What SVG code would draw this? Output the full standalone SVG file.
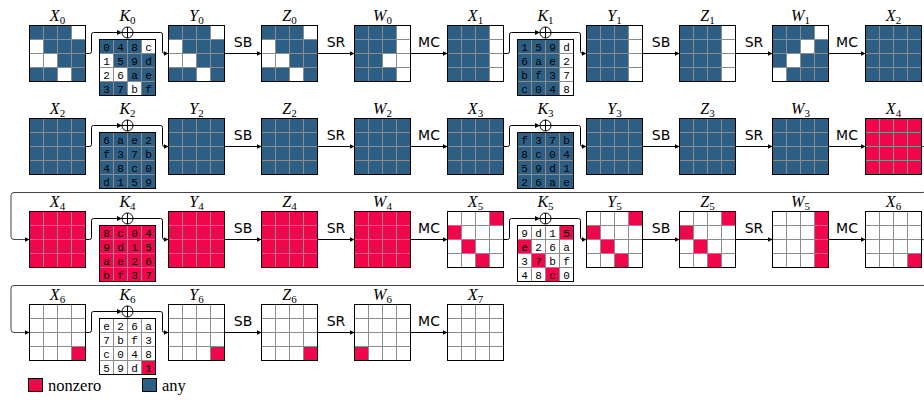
<svg xmlns="http://www.w3.org/2000/svg" xmlns:xlink="http://www.w3.org/1999/xlink" width="924" height="400" viewBox="0 0 924 400">
<style>
.lb{font-family:'Liberation Serif','Times New Roman',serif;font-size:16px;text-anchor:middle;fill:#000}
.it{font-style:italic}
.sb{font-size:11px}
.op{font-family:'DejaVu Sans','Liberation Sans',sans-serif;font-size:14px;text-anchor:middle;fill:#000}
.kt{font-family:'Liberation Mono','DejaVu Sans Mono',monospace;font-size:11px;text-anchor:middle;fill:#000}
.cn{fill:none;stroke:#000;stroke-width:1}
.wr{fill:none;stroke:#444;stroke-width:1}
.leg{font-family:'Liberation Serif','Times New Roman',serif;font-size:16.5px;fill:#000}
</style>
<defs>
<rect id="cB" width="14" height="14" fill="#2d5f85"/>
<rect id="cR" width="14" height="14" fill="#f0064b"/>
<rect id="fB" width="56" height="56" fill="#2d5f85"/>
<rect id="fR" width="56" height="56" fill="#f0064b"/>
<rect id="c3B" width="42" height="56" fill="#2d5f85"/>
<rect id="colR" width="14" height="56" fill="#f0064b"/>
<g id="gl"><path d="M14,0V56M28,0V56M42,0V56M0,14H56M0,28H56M0,42H56" fill="none" stroke="#8c8c8c" stroke-width="1"/><rect width="56" height="56" fill="none" stroke="#000" stroke-width="1"/></g>
<g id="xor"><circle r="5.5" fill="#fff" stroke="#000" stroke-width="1"/><path d="M-5.5,0H5.5M0,-5.5V5.5" stroke="#000" stroke-width="1"/></g>
<marker id="ah" markerWidth="6" markerHeight="6" refX="5" refY="3" orient="auto" markerUnits="userSpaceOnUse"><path d="M0,0.6L5,3L0,5.4Z" fill="#000"/></marker>
</defs>
<rect width="924" height="400" fill="#fff"/>

<g id="connectors">
<path class="cn" d="M85.5,53.5H89.5Q91.5,53.5 91.5,51.5V34.5Q91.5,32.5 93.5,32.5H122" marker-end="url(#ah)"/>
<path class="cn" d="M133,32.5H160.5Q162.5,32.5 162.5,34.5V51.5Q162.5,53.5 164.5,53.5H168.5" marker-end="url(#ah)"/>
<path class="cn" d="M224.5,53.5H261.5" marker-end="url(#ah)"/>
<path class="cn" d="M317.5,53.5H354.5" marker-end="url(#ah)"/>
<path class="cn" d="M410.5,53.5H447.5" marker-end="url(#ah)"/>
<path class="cn" d="M503.5,53.5H507.5Q509.5,53.5 509.5,51.5V34.5Q509.5,32.5 511.5,32.5H540" marker-end="url(#ah)"/>
<path class="cn" d="M551,32.5H578.5Q580.5,32.5 580.5,34.5V51.5Q580.5,53.5 582.5,53.5H586.5" marker-end="url(#ah)"/>
<path class="cn" d="M642.5,53.5H679.5" marker-end="url(#ah)"/>
<path class="cn" d="M735.5,53.5H772.5" marker-end="url(#ah)"/>
<path class="cn" d="M828.5,53.5H865.5" marker-end="url(#ah)"/>
<path class="cn" d="M85.5,146.5H89.5Q91.5,146.5 91.5,144.5V127.5Q91.5,125.5 93.5,125.5H122" marker-end="url(#ah)"/>
<path class="cn" d="M133,125.5H160.5Q162.5,125.5 162.5,127.5V144.5Q162.5,146.5 164.5,146.5H168.5" marker-end="url(#ah)"/>
<path class="cn" d="M224.5,146.5H261.5" marker-end="url(#ah)"/>
<path class="cn" d="M317.5,146.5H354.5" marker-end="url(#ah)"/>
<path class="cn" d="M410.5,146.5H447.5" marker-end="url(#ah)"/>
<path class="cn" d="M503.5,146.5H507.5Q509.5,146.5 509.5,144.5V127.5Q509.5,125.5 511.5,125.5H540" marker-end="url(#ah)"/>
<path class="cn" d="M551,125.5H578.5Q580.5,125.5 580.5,127.5V144.5Q580.5,146.5 582.5,146.5H586.5" marker-end="url(#ah)"/>
<path class="cn" d="M642.5,146.5H679.5" marker-end="url(#ah)"/>
<path class="cn" d="M735.5,146.5H772.5" marker-end="url(#ah)"/>
<path class="cn" d="M828.5,146.5H865.5" marker-end="url(#ah)"/>
<path class="wr" d="M921.5,146.5H923Q926,146.5 926,149.5V189.5Q926,192.5 923,192.5H14Q11,192.5 11,195.5V236.5Q11,239.5 14,239.5H29.5" marker-end="url(#ah)"/>
<path class="cn" d="M85.5,239.5H89.5Q91.5,239.5 91.5,237.5V220.5Q91.5,218.5 93.5,218.5H122" marker-end="url(#ah)"/>
<path class="cn" d="M133,218.5H160.5Q162.5,218.5 162.5,220.5V237.5Q162.5,239.5 164.5,239.5H168.5" marker-end="url(#ah)"/>
<path class="cn" d="M224.5,239.5H261.5" marker-end="url(#ah)"/>
<path class="cn" d="M317.5,239.5H354.5" marker-end="url(#ah)"/>
<path class="cn" d="M410.5,239.5H447.5" marker-end="url(#ah)"/>
<path class="cn" d="M503.5,239.5H507.5Q509.5,239.5 509.5,237.5V220.5Q509.5,218.5 511.5,218.5H540" marker-end="url(#ah)"/>
<path class="cn" d="M551,218.5H578.5Q580.5,218.5 580.5,220.5V237.5Q580.5,239.5 582.5,239.5H586.5" marker-end="url(#ah)"/>
<path class="cn" d="M642.5,239.5H679.5" marker-end="url(#ah)"/>
<path class="cn" d="M735.5,239.5H772.5" marker-end="url(#ah)"/>
<path class="cn" d="M828.5,239.5H865.5" marker-end="url(#ah)"/>
<path class="wr" d="M921.5,239.5H923Q926,239.5 926,242.5V282.5Q926,285.5 923,285.5H14Q11,285.5 11,288.5V329.5Q11,332.5 14,332.5H29.5" marker-end="url(#ah)"/>
<path class="cn" d="M85.5,332.5H89.5Q91.5,332.5 91.5,330.5V313.5Q91.5,311.5 93.5,311.5H122" marker-end="url(#ah)"/>
<path class="cn" d="M133,311.5H160.5Q162.5,311.5 162.5,313.5V330.5Q162.5,332.5 164.5,332.5H168.5" marker-end="url(#ah)"/>
<path class="cn" d="M224.5,332.5H261.5" marker-end="url(#ah)"/>
<path class="cn" d="M317.5,332.5H354.5" marker-end="url(#ah)"/>
<path class="cn" d="M410.5,332.5H447.5" marker-end="url(#ah)"/>
</g>

<g id="oplabels">
<text class="op" x="243" y="47">SB</text><text class="op" x="336" y="47">SR</text><text class="op" x="429" y="47">MC</text>
<text class="op" x="661" y="47">SB</text><text class="op" x="754" y="47">SR</text><text class="op" x="847" y="47">MC</text>
<text class="op" x="243" y="140">SB</text><text class="op" x="336" y="140">SR</text><text class="op" x="429" y="140">MC</text>
<text class="op" x="661" y="140">SB</text><text class="op" x="754" y="140">SR</text><text class="op" x="847" y="140">MC</text>
<text class="op" x="243" y="233">SB</text><text class="op" x="336" y="233">SR</text><text class="op" x="429" y="233">MC</text>
<text class="op" x="661" y="233">SB</text><text class="op" x="754" y="233">SR</text><text class="op" x="847" y="233">MC</text>
<text class="op" x="243" y="326">SB</text><text class="op" x="336" y="326">SR</text><text class="op" x="429" y="326">MC</text>
</g>

<g id="X0" transform="translate(29.5,25.5)">
<use href="#cB" x="0" y="0"/><use href="#cB" x="14" y="0"/><use href="#cB" x="28" y="0"/>
<use href="#cB" x="14" y="14"/><use href="#cB" x="28" y="14"/><use href="#cB" x="42" y="14"/>
<use href="#cB" x="28" y="28"/><use href="#cB" x="42" y="28"/>
<use href="#cB" x="0" y="42"/><use href="#cB" x="14" y="42"/><use href="#cB" x="42" y="42"/>
<use href="#gl"/>
<text class="lb" x="28" y="-5"><tspan class="it">X</tspan><tspan class="sb" dy="3">0</tspan></text>
</g>
<g id="K0" transform="translate(99.5,25.5)">
<text class="lb" x="28" y="-5"><tspan class="it">K</tspan><tspan class="sb" dy="3">0</tspan></text>
<use href="#xor" x="28" y="7"/>
<g transform="translate(0,14)">
<use href="#cB" x="0" y="0"/><use href="#cB" x="14" y="0"/><use href="#cB" x="28" y="0"/>
<use href="#cB" x="14" y="14"/><use href="#cB" x="28" y="14"/><use href="#cB" x="42" y="14"/>
<use href="#cB" x="28" y="28"/><use href="#cB" x="42" y="28"/>
<use href="#cB" x="0" y="42"/><use href="#cB" x="14" y="42"/><use href="#cB" x="42" y="42"/>
<use href="#gl"/>
<text class="kt"><tspan x="7 21 35 49" y="11">048c</tspan><tspan x="7 21 35 49" y="25">159d</tspan><tspan x="7 21 35 49" y="39">26ae</tspan><tspan x="7 21 35 49" y="53">37bf</tspan></text>
</g>
</g>
<g id="Y0" transform="translate(168.5,25.5)">
<use href="#cB" x="0" y="0"/><use href="#cB" x="14" y="0"/><use href="#cB" x="28" y="0"/>
<use href="#cB" x="14" y="14"/><use href="#cB" x="28" y="14"/><use href="#cB" x="42" y="14"/>
<use href="#cB" x="28" y="28"/><use href="#cB" x="42" y="28"/>
<use href="#cB" x="0" y="42"/><use href="#cB" x="14" y="42"/><use href="#cB" x="42" y="42"/>
<use href="#gl"/>
<text class="lb" x="28" y="-5"><tspan class="it">Y</tspan><tspan class="sb" dy="3">0</tspan></text>
</g>
<g id="Z0" transform="translate(261.5,25.5)">
<use href="#cB" x="0" y="0"/><use href="#cB" x="14" y="0"/><use href="#cB" x="28" y="0"/>
<use href="#cB" x="14" y="14"/><use href="#cB" x="28" y="14"/><use href="#cB" x="42" y="14"/>
<use href="#cB" x="28" y="28"/><use href="#cB" x="42" y="28"/>
<use href="#cB" x="0" y="42"/><use href="#cB" x="14" y="42"/><use href="#cB" x="42" y="42"/>
<use href="#gl"/>
<text class="lb" x="28" y="-5"><tspan class="it">Z</tspan><tspan class="sb" dy="3">0</tspan></text>
</g>
<g id="W0" transform="translate(354.5,25.5)">
<use href="#cB" x="0" y="0"/><use href="#cB" x="14" y="0"/><use href="#cB" x="28" y="0"/>
<use href="#cB" x="0" y="14"/><use href="#cB" x="14" y="14"/><use href="#cB" x="28" y="14"/>
<use href="#cB" x="0" y="28"/><use href="#cB" x="14" y="28"/>
<use href="#cB" x="0" y="42"/><use href="#cB" x="14" y="42"/><use href="#cB" x="28" y="42"/>
<use href="#gl"/>
<text class="lb" x="28" y="-5"><tspan class="it">W</tspan><tspan class="sb" dy="3">0</tspan></text>
</g>
<g id="X1" transform="translate(447.5,25.5)">
<use href="#c3B"/><use href="#gl"/>
<text class="lb" x="28" y="-5"><tspan class="it">X</tspan><tspan class="sb" dy="3">1</tspan></text>
</g>
<g id="K1" transform="translate(517.5,25.5)">
<text class="lb" x="28" y="-5"><tspan class="it">K</tspan><tspan class="sb" dy="3">1</tspan></text>
<use href="#xor" x="28" y="7"/>
<g transform="translate(0,14)">
<use href="#c3B"/><use href="#gl"/>
<text class="kt"><tspan x="7 21 35 49" y="11">159d</tspan><tspan x="7 21 35 49" y="25">6ae2</tspan><tspan x="7 21 35 49" y="39">bf37</tspan><tspan x="7 21 35 49" y="53">c048</tspan></text>
</g>
</g>
<g id="Y1" transform="translate(586.5,25.5)">
<use href="#c3B"/><use href="#gl"/>
<text class="lb" x="28" y="-5"><tspan class="it">Y</tspan><tspan class="sb" dy="3">1</tspan></text>
</g>
<g id="Z1" transform="translate(679.5,25.5)">
<use href="#c3B"/><use href="#gl"/>
<text class="lb" x="28" y="-5"><tspan class="it">Z</tspan><tspan class="sb" dy="3">1</tspan></text>
</g>
<g id="W1" transform="translate(772.5,25.5)">
<use href="#cB" x="0" y="0"/><use href="#cB" x="14" y="0"/><use href="#cB" x="28" y="0"/>
<use href="#cB" x="0" y="14"/><use href="#cB" x="14" y="14"/><use href="#cB" x="42" y="14"/>
<use href="#cB" x="0" y="28"/><use href="#cB" x="28" y="28"/><use href="#cB" x="42" y="28"/>
<use href="#cB" x="14" y="42"/><use href="#cB" x="28" y="42"/><use href="#cB" x="42" y="42"/>
<use href="#gl"/>
<text class="lb" x="28" y="-5"><tspan class="it">W</tspan><tspan class="sb" dy="3">1</tspan></text>
</g>
<g id="X2a" transform="translate(865.5,25.5)">
<use href="#fB"/><use href="#gl"/>
<text class="lb" x="28" y="-5"><tspan class="it">X</tspan><tspan class="sb" dy="3">2</tspan></text>
</g>

<g id="X2b" transform="translate(29.5,118.5)">
<use href="#fB"/><use href="#gl"/>
<text class="lb" x="28" y="-5"><tspan class="it">X</tspan><tspan class="sb" dy="3">2</tspan></text>
</g>
<g id="K2" transform="translate(99.5,118.5)">
<text class="lb" x="28" y="-5"><tspan class="it">K</tspan><tspan class="sb" dy="3">2</tspan></text>
<use href="#xor" x="28" y="7"/>
<g transform="translate(0,14)">
<use href="#fB"/><use href="#gl"/>
<text class="kt"><tspan x="7 21 35 49" y="11">6ae2</tspan><tspan x="7 21 35 49" y="25">f37b</tspan><tspan x="7 21 35 49" y="39">48c0</tspan><tspan x="7 21 35 49" y="53">d159</tspan></text>
</g>
</g>
<g id="Y2" transform="translate(168.5,118.5)">
<use href="#fB"/><use href="#gl"/>
<text class="lb" x="28" y="-5"><tspan class="it">Y</tspan><tspan class="sb" dy="3">2</tspan></text>
</g>
<g id="Z2" transform="translate(261.5,118.5)">
<use href="#fB"/><use href="#gl"/>
<text class="lb" x="28" y="-5"><tspan class="it">Z</tspan><tspan class="sb" dy="3">2</tspan></text>
</g>
<g id="W2" transform="translate(354.5,118.5)">
<use href="#fB"/><use href="#gl"/>
<text class="lb" x="28" y="-5"><tspan class="it">W</tspan><tspan class="sb" dy="3">2</tspan></text>
</g>
<g id="X3" transform="translate(447.5,118.5)">
<use href="#fB"/><use href="#gl"/>
<text class="lb" x="28" y="-5"><tspan class="it">X</tspan><tspan class="sb" dy="3">3</tspan></text>
</g>
<g id="K3" transform="translate(517.5,118.5)">
<text class="lb" x="28" y="-5"><tspan class="it">K</tspan><tspan class="sb" dy="3">3</tspan></text>
<use href="#xor" x="28" y="7"/>
<g transform="translate(0,14)">
<use href="#fB"/><use href="#gl"/>
<text class="kt"><tspan x="7 21 35 49" y="11">f37b</tspan><tspan x="7 21 35 49" y="25">8c04</tspan><tspan x="7 21 35 49" y="39">59d1</tspan><tspan x="7 21 35 49" y="53">26ae</tspan></text>
</g>
</g>
<g id="Y3" transform="translate(586.5,118.5)">
<use href="#fB"/><use href="#gl"/>
<text class="lb" x="28" y="-5"><tspan class="it">Y</tspan><tspan class="sb" dy="3">3</tspan></text>
</g>
<g id="Z3" transform="translate(679.5,118.5)">
<use href="#fB"/><use href="#gl"/>
<text class="lb" x="28" y="-5"><tspan class="it">Z</tspan><tspan class="sb" dy="3">3</tspan></text>
</g>
<g id="W3" transform="translate(772.5,118.5)">
<use href="#fB"/><use href="#gl"/>
<text class="lb" x="28" y="-5"><tspan class="it">W</tspan><tspan class="sb" dy="3">3</tspan></text>
</g>
<g id="X4a" transform="translate(865.5,118.5)">
<use href="#fR"/><use href="#gl"/>
<text class="lb" x="28" y="-5"><tspan class="it">X</tspan><tspan class="sb" dy="3">4</tspan></text>
</g>

<g id="X4b" transform="translate(29.5,211.5)">
<use href="#fR"/><use href="#gl"/>
<text class="lb" x="28" y="-5"><tspan class="it">X</tspan><tspan class="sb" dy="3">4</tspan></text>
</g>
<g id="K4" transform="translate(99.5,211.5)">
<text class="lb" x="28" y="-5"><tspan class="it">K</tspan><tspan class="sb" dy="3">4</tspan></text>
<use href="#xor" x="28" y="7"/>
<g transform="translate(0,14)">
<use href="#fR"/><use href="#gl"/>
<text class="kt"><tspan x="7 21 35 49" y="11">8c04</tspan><tspan x="7 21 35 49" y="25">9d15</tspan><tspan x="7 21 35 49" y="39">ae26</tspan><tspan x="7 21 35 49" y="53">bf37</tspan></text>
</g>
</g>
<g id="Y4" transform="translate(168.5,211.5)">
<use href="#fR"/><use href="#gl"/>
<text class="lb" x="28" y="-5"><tspan class="it">Y</tspan><tspan class="sb" dy="3">4</tspan></text>
</g>
<g id="Z4" transform="translate(261.5,211.5)">
<use href="#fR"/><use href="#gl"/>
<text class="lb" x="28" y="-5"><tspan class="it">Z</tspan><tspan class="sb" dy="3">4</tspan></text>
</g>
<g id="W4" transform="translate(354.5,211.5)">
<use href="#fR"/><use href="#gl"/>
<text class="lb" x="28" y="-5"><tspan class="it">W</tspan><tspan class="sb" dy="3">4</tspan></text>
</g>
<g id="X5" transform="translate(447.5,211.5)">
<use href="#cR" x="42" y="0"/><use href="#cR" x="0" y="14"/><use href="#cR" x="14" y="28"/><use href="#cR" x="28" y="42"/>
<use href="#gl"/>
<text class="lb" x="28" y="-5"><tspan class="it">X</tspan><tspan class="sb" dy="3">5</tspan></text>
</g>
<g id="K5" transform="translate(517.5,211.5)">
<text class="lb" x="28" y="-5"><tspan class="it">K</tspan><tspan class="sb" dy="3">5</tspan></text>
<use href="#xor" x="28" y="7"/>
<g transform="translate(0,14)">
<use href="#cR" x="42" y="0"/><use href="#cR" x="0" y="14"/><use href="#cR" x="14" y="28"/><use href="#cR" x="28" y="42"/>
<use href="#gl"/>
<text class="kt"><tspan x="7 21 35 49" y="11">9d15</tspan><tspan x="7 21 35 49" y="25">e26a</tspan><tspan x="7 21 35 49" y="39">37bf</tspan><tspan x="7 21 35 49" y="53">48c0</tspan></text>
</g>
</g>
<g id="Y5" transform="translate(586.5,211.5)">
<use href="#cR" x="42" y="0"/><use href="#cR" x="0" y="14"/><use href="#cR" x="14" y="28"/><use href="#cR" x="28" y="42"/>
<use href="#gl"/>
<text class="lb" x="28" y="-5"><tspan class="it">Y</tspan><tspan class="sb" dy="3">5</tspan></text>
</g>
<g id="Z5" transform="translate(679.5,211.5)">
<use href="#cR" x="42" y="0"/><use href="#cR" x="0" y="14"/><use href="#cR" x="14" y="28"/><use href="#cR" x="28" y="42"/>
<use href="#gl"/>
<text class="lb" x="28" y="-5"><tspan class="it">Z</tspan><tspan class="sb" dy="3">5</tspan></text>
</g>
<g id="W5" transform="translate(772.5,211.5)">
<use href="#colR" x="42" y="0"/><use href="#gl"/>
<text class="lb" x="28" y="-5"><tspan class="it">W</tspan><tspan class="sb" dy="3">5</tspan></text>
</g>
<g id="X6a" transform="translate(865.5,211.5)">
<use href="#cR" x="42" y="42"/><use href="#gl"/>
<text class="lb" x="28" y="-5"><tspan class="it">X</tspan><tspan class="sb" dy="3">6</tspan></text>
</g>

<g id="X6b" transform="translate(29.5,304.5)">
<use href="#cR" x="42" y="42"/><use href="#gl"/>
<text class="lb" x="28" y="-5"><tspan class="it">X</tspan><tspan class="sb" dy="3">6</tspan></text>
</g>
<g id="K6" transform="translate(99.5,304.5)">
<text class="lb" x="28" y="-5"><tspan class="it">K</tspan><tspan class="sb" dy="3">6</tspan></text>
<use href="#xor" x="28" y="7"/>
<g transform="translate(0,14)">
<use href="#cR" x="42" y="42"/><use href="#gl"/>
<text class="kt"><tspan x="7 21 35 49" y="11">e26a</tspan><tspan x="7 21 35 49" y="25">7bf3</tspan><tspan x="7 21 35 49" y="39">c048</tspan><tspan x="7 21 35 49" y="53">59d1</tspan></text>
</g>
</g>
<g id="Y6" transform="translate(168.5,304.5)">
<use href="#cR" x="42" y="42"/><use href="#gl"/>
<text class="lb" x="28" y="-5"><tspan class="it">Y</tspan><tspan class="sb" dy="3">6</tspan></text>
</g>
<g id="Z6" transform="translate(261.5,304.5)">
<use href="#cR" x="42" y="42"/><use href="#gl"/>
<text class="lb" x="28" y="-5"><tspan class="it">Z</tspan><tspan class="sb" dy="3">6</tspan></text>
</g>
<g id="W6" transform="translate(354.5,304.5)">
<use href="#cR" x="0" y="42"/><use href="#gl"/>
<text class="lb" x="28" y="-5"><tspan class="it">W</tspan><tspan class="sb" dy="3">6</tspan></text>
</g>
<g id="X7" transform="translate(447.5,304.5)">
<use href="#gl"/>
<text class="lb" x="28" y="-5"><tspan class="it">X</tspan><tspan class="sb" dy="3">7</tspan></text>
</g>

<g id="legend">
<rect x="28.5" y="378.5" width="14" height="13" fill="#f0064b" stroke="#000" stroke-width="1"/>
<text class="leg" x="48" y="391">nonzero</text>
<rect x="142.5" y="378.5" width="14" height="13" fill="#2d5f85" stroke="#000" stroke-width="1"/>
<text class="leg" x="162" y="391">any</text>
</g>
</svg>
